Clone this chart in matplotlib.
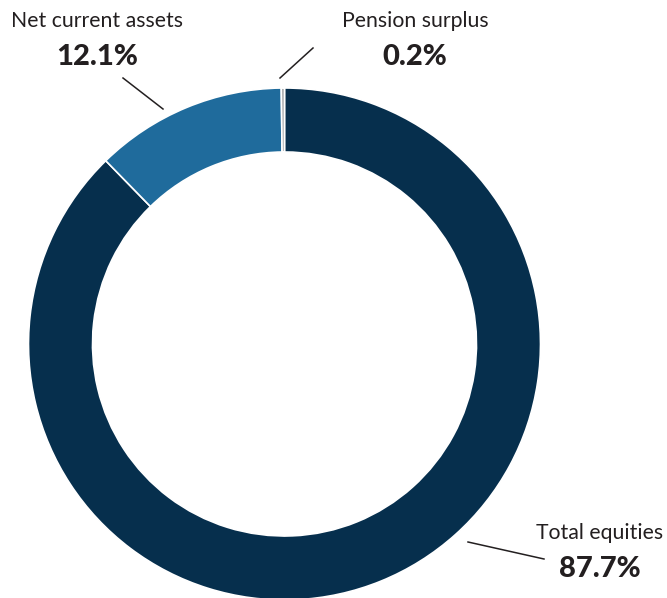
import matplotlib.pyplot as plt

# данные
labels = ['Total equities', 'Net current assets', 'Pension surplus']
shares = [87.7, 12.1, 0.2]
colors = ['#062f4d', '#1f6b9c', '#a2a3a5']

# позиции подписей (в пикселях, y сверху вниз)
label_pos = [(600, 533), (97, 21), (415, 21)]
line_pos = [((468, 542), (544, 559)), ((163, 109), (123, 78)), ((280, 78), (313, 48))]

W, H = 667, 598
plt.rcParams['font.family'] = ['Lato', 'DejaVu Sans']

fig = plt.figure(figsize=(W / 100, H / 100), dpi=100)
ax = fig.add_axes([0, 0, 1, 1])

ax.pie(shares, colors=colors, startangle=90, counterclock=False,
       center=(284.5, H - 344), radius=256, frame=True,
       wedgeprops=dict(width=64, edgecolor='white', linewidth=1.2))
ax.set_xlim(0, W)
ax.set_ylim(0, H)
ax.set_aspect('equal')
ax.axis('off')

for lab, val, (x, y), (p0, p1) in zip(labels, shares, label_pos, line_pos):
    ax.text(x, H - y, lab, ha='center', va='center', fontsize=15.3, color='#231f20')
    ax.text(x, H - y - 36, f'{val}%', ha='center', va='center', fontsize=21,
            fontweight='black', color='#231f20')
    ax.plot([p0[0], p1[0]], [H - p0[1], H - p1[1]], color='#231f20', lw=1.1)

fig.savefig('out.png', dpi=100)
